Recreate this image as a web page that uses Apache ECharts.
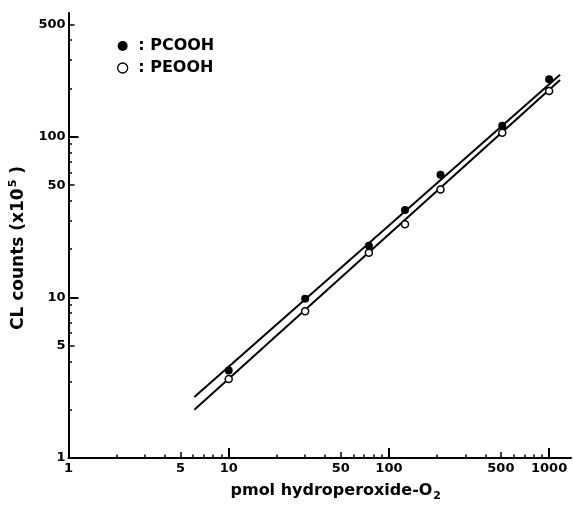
<!DOCTYPE html>
<html>
<head>
<meta charset="utf-8">
<script src="https://cdn.jsdelivr.net/npm/echarts@6/dist/echarts.min.js"></script>
<style>
  html, body { margin: 0; padding: 0; background: #fff; }
  #chart { width: 573px; height: 507px; }
</style>
</head>
<body>
<div id="chart"></div>
<script>
// pmol hydroperoxide-O2 (x) and CL counts x10^5 (y)
const amounts = [10, 30, 75, 126, 210, 510, 1000];
const pcooh = [3.5, 9.8, 21, 35, 58, 117, 228];
const peooh = [3.1, 8.2, 19, 28.5, 47, 106, 193];

// end points of the two fitted lines
const fitX = [6.1, 1170];
const pcoohFit = [2.4, 243];
const peoohFit = [2.0, 226];

// tick labels
const xLabels = [1, 5, 10, 50, 100, 500, 1000];
const yLabels = [1, 5, 10, 50, 100, 500];
const xMax = 1370;
const yMax = 590;

const lg = Math.log10;
const font = 'DejaVu Sans';

function minorTicks(max) {
  let out = [];
  for (let d = 1; d <= 1000; d *= 10) {
    for (let k = 2; k <= 9; k++) {
      if (k !== 5 && k * d <= max) out.push(lg(k * d));
    }
  }
  return out;
}

function axes(dir, max, labels, longTicks, midTicks) {
  const pos = dir === 'x' ? 'bottom' : 'left';
  const base = {
    type: 'value',
    min: 0,
    max: lg(max),
    position: pos,
    splitLine: {show: false},
    axisLine: {show: false},
    axisLabel: {show: false},
  };
  const main = Object.assign({}, base, {
    axisLine: {show: true, onZero: false, lineStyle: {color: '#000', width: 2}},
    axisTick: {inside: true, length: 10, lineStyle: {color: '#000', width: 2}, customValues: longTicks.map(lg)},
    axisLabel: {
      show: true,
      customValues: labels.map(lg),
      formatter: v => String(Math.round(Math.pow(10, v))),
      color: '#000',
      fontFamily: font,
      fontWeight: 'bold',
      fontSize: 13,
      margin: dir === 'x' ? 4 : 3,
    },
  });
  const mid = Object.assign({}, base, {
    axisTick: {inside: true, length: 6, lineStyle: {color: '#000', width: 1.5}, customValues: midTicks.map(lg)},
  });
  const minor = Object.assign({}, base, {
    axisTick: {inside: true, length: 3.5, lineStyle: {color: '#000', width: 1.5}, customValues: minorTicks(max)},
  });
  return [main, mid, minor];
}

const xAxes = axes('x', xMax, xLabels, [10, 100, 1000], [5, 50, 500]);
xAxes[0].name = '{t|pmol hydroperoxide-O}{b|2}';
xAxes[0].nameLocation = 'middle';
xAxes[0].nameGap = 22;
xAxes[0].nameTextStyle = {
  padding: [0, 0, 0, 32],
  rich: {
    t: {fontFamily: font, fontWeight: 'bold', fontSize: 16, color: '#000', lineHeight: 22},
    b: {fontFamily: font, fontWeight: 'bold', fontSize: 11, color: '#000', lineHeight: 22, verticalAlign: 'bottom', padding: [6, 0, 0, 1]},
  }
};

const yAxes = axes('y', yMax, yLabels, [10, 100], [5, 50, 500]);
yAxes[0].name = '{t|CL counts (x10}{s|5}{t| )}';
yAxes[0].nameLocation = 'middle';
yAxes[0].nameGap = 34;
yAxes[0].nameTextStyle = {
  padding: [0, 25, 0, 0],
  rich: {
    t: {fontFamily: font, fontWeight: 'bold', fontSize: 17, color: '#000', lineHeight: 22},
    s: {fontFamily: font, fontWeight: 'bold', fontSize: 11, color: '#000', lineHeight: 22, verticalAlign: 'top', padding: [0, 0, 8, 1]},
  }
};

const chart = echarts.init(document.getElementById('chart'));
chart.setOption({
  animation: false,
  backgroundColor: '#fff',
  grid: {left: 66, right: 2, top: 13, bottom: 45},
  legend: {
    orient: 'vertical',
    left: 112,
    top: 33,
    itemWidth: 10,
    itemHeight: 10,
    itemGap: 6,
    selectedMode: false,
    formatter: ' : {name}',
    textStyle: {fontFamily: font, fontWeight: 'bold', fontSize: 16, color: '#000'},
    data: [
      {name: 'PCOOH', icon: 'circle', itemStyle: {color: '#000', borderWidth: 0, opacity: 1}},
      {name: 'PEOOH', icon: 'circle', itemStyle: {color: '#fff', borderColor: '#000', borderWidth: 1.3, opacity: 1}},
    ]
  },
  xAxis: xAxes,
  yAxis: yAxes,
  series: [
    {
      name: 'PCOOH fit', type: 'line', symbol: 'none', z: 2,
      lineStyle: {color: '#000', width: 2},
      data: fitX.map((x, i) => [lg(x), lg(pcoohFit[i])])
    },
    {
      name: 'PEOOH fit', type: 'line', symbol: 'none', z: 2,
      lineStyle: {color: '#000', width: 2},
      data: fitX.map((x, i) => [lg(x), lg(peoohFit[i])])
    },
    {
      name: 'PCOOH', type: 'scatter', symbol: 'circle', symbolSize: 8, z: 4,
      itemStyle: {color: '#000', opacity: 1},
      data: amounts.map((x, i) => [lg(x), lg(pcooh[i])])
    },
    {
      name: 'PEOOH', type: 'scatter', symbol: 'circle', symbolSize: 7, z: 3,
      itemStyle: {color: '#fff', borderColor: '#000', borderWidth: 1.5, opacity: 1},
      data: amounts.map((x, i) => [lg(x), lg(peooh[i])])
    }
  ]
});
window.onresize = chart.resize;
</script>
</body>
</html>
